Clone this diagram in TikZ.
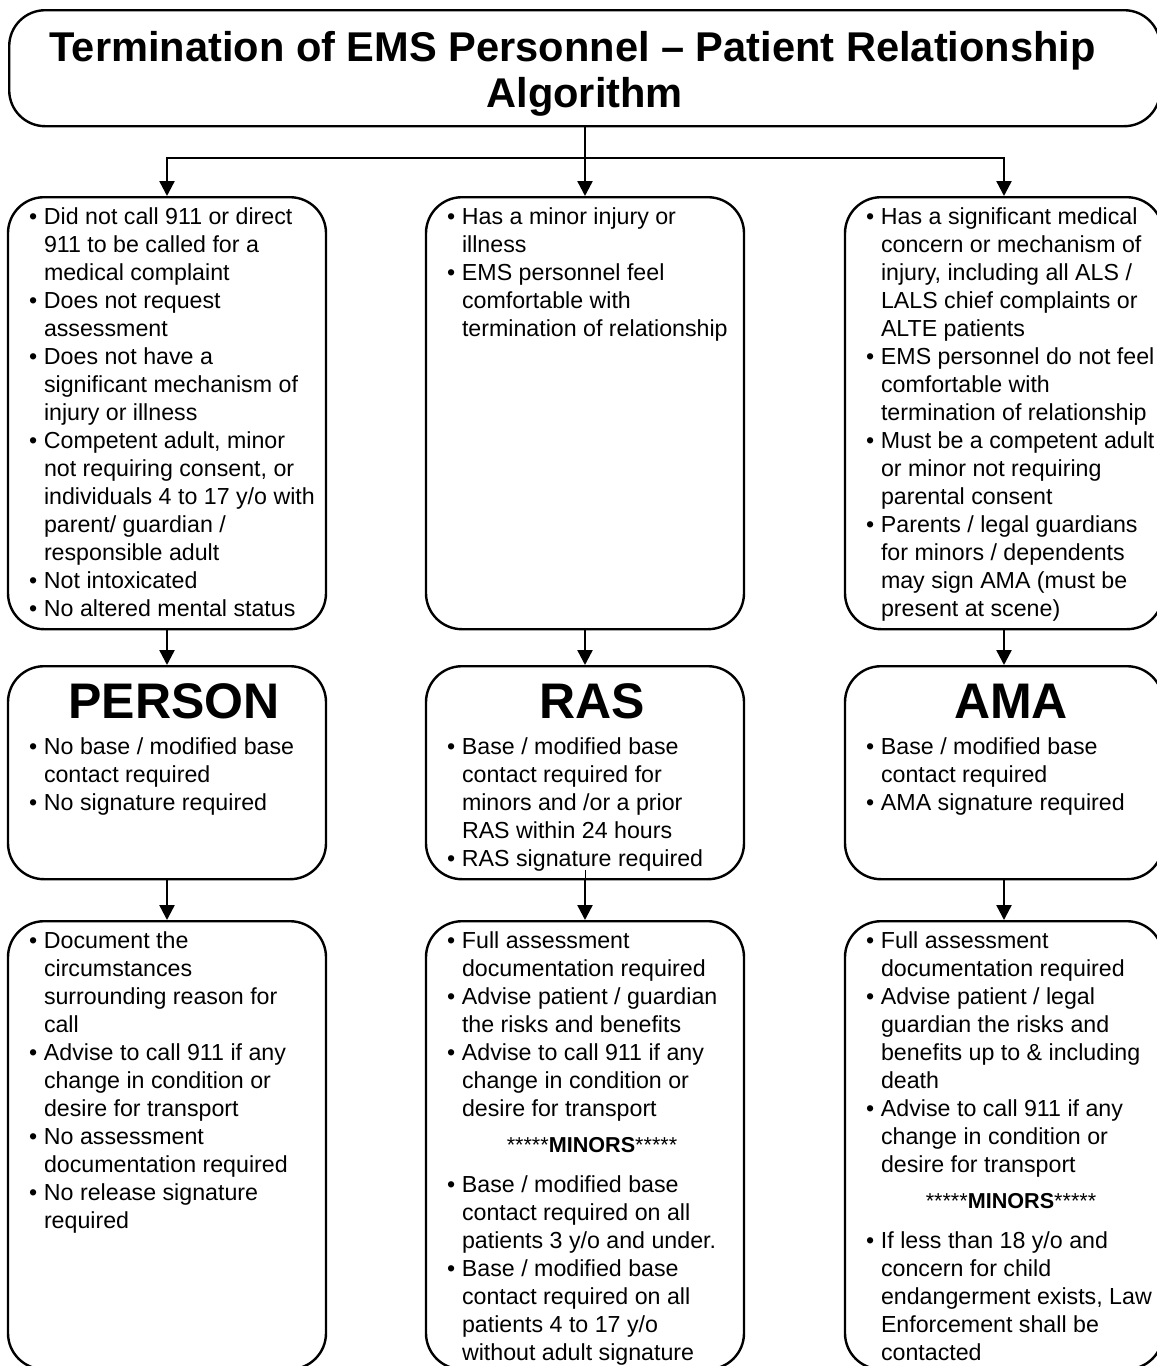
\documentclass[tikz,border=0pt]{standalone}
\usepackage{fontspec}
\setmainfont{Liberation Sans}
\usepackage{tikz}
\usetikzlibrary{positioning,arrows.meta}

\newcommand{\itm}[1]{\par\noindent\hangindent=18pt\hangafter=1\hspace*{10.5pt}\makebox[7.5pt][l]{\textbullet}\strut#1\par}
\newcommand{\boxtxt}[2]{\parbox[t][#1][t]{159pt}{\vspace*{3.7pt}#2}}
\newcommand{\heading}[1]{\vspace{2.3pt}{\centering\fontsize{25}{28}\selectfont\bfseries\hspace*{7pt}\rule{0pt}{20pt}#1\par}\vspace{4pt}}
\newcommand{\minors}{\vspace{6pt}{\centering\fontsize{10.8}{12}\selectfont\hspace*{7pt}*****\textbf{MINORS}*****\par}\vspace{6pt}}

\begin{document}
\begin{tikzpicture}[x=0.5pt,y=-0.5pt,
  box/.style={draw,line width=1.2pt,rounded corners=18pt,inner sep=0pt,font=\fontsize{11.6}{14}\selectfont},
  arr/.style={line width=1.2pt,-{Triangle[length=7.5pt,width=7.5pt]}}]
\useasboundingbox (0,0) rectangle (1157,1366);

\node[box,anchor=north west,minimum width=575.5pt,minimum height=58pt,align=center,font=\fontsize{20.8}{23}\selectfont\bfseries] (title) at (8,9) {\rule{0pt}{20.3pt}Termination of EMS Personnel -- Patient Relationship\hspace*{12pt}\\Algorithm};

\node[box,anchor=north] (crit1) at (167,196) {\boxtxt{216pt}{%
\itm{Did not call 911 or direct\\911 to be called for a\\medical complaint}
\itm{Does not request\\assessment}
\itm{Does not have a\\significant mechanism of\\injury or illness}
\itm{Competent adult, minor\\not requiring consent, or\\individuals 4 to 17 y/o with\\parent/ guardian /\\responsible adult}
\itm{Not intoxicated}
\itm{No altered mental status}}};
\node[box,anchor=north] (crit2) at (585,196) {\boxtxt{216pt}{%
\itm{Has a minor injury or\\illness}
\itm{EMS personnel feel\\comfortable with\\termination of relationship}}};
\node[box,anchor=north] (crit3) at (1004,196) {\boxtxt{216pt}{%
\itm{Has a significant medical\\concern or mechanism of\\injury, including all ALS /\\LALS chief complaints or\\ALTE patients}
\itm{EMS personnel do not feel\\comfortable with\\termination of relationship}
\itm{Must be a competent adult\\or minor not requiring\\parental consent}
\itm{Parents / legal guardians\\for minors / dependents\\may sign AMA (must be\\present at scene)}}};

\node[box,anchor=north] (person) at (167,665) {\boxtxt{106.5pt}{%
\heading{PERSON}
\itm{No base / modified base\\contact required}
\itm{No signature required}}};
\node[box,anchor=north] (ras) at (585,665) {\boxtxt{106.5pt}{%
\heading{RAS}
\itm{Base / modified base\\contact required for\\minors and /or a prior\\RAS within 24 hours}
\itm{RAS signature required}}};
\node[box,anchor=north] (ama) at (1004,665) {\boxtxt{106.5pt}{%
\heading{AMA}
\itm{Base / modified base\\contact required}
\itm{AMA signature required}}};

\node[box,anchor=north] (doc1) at (167,920) {\boxtxt{224pt}{%
\itm{Document the\\circumstances\\surrounding reason for\\call}
\itm{Advise to call 911 if any\\change in condition or\\desire for transport}
\itm{No assessment\\documentation required}
\itm{No release signature\\required}}};
\node[box,anchor=north] (doc2) at (585,920) {\boxtxt{224pt}{%
\itm{Full assessment\\documentation required}
\itm{Advise patient / guardian\\the risks and benefits}
\itm{Advise to call 911 if any\\change in condition or\\desire for transport}
\minors
\itm{Base / modified base\\contact required on all\\patients 3 y/o and under.}
\itm{Base / modified base\\contact required on all\\patients 4 to 17 y/o\\without adult signature}}};
\node[box,anchor=north] (doc3) at (1004,920) {\boxtxt{224pt}{%
\itm{Full assessment\\documentation required}
\itm{Advise patient / legal\\guardian the risks and\\benefits up to \& including\\death}
\itm{Advise to call 911 if any\\change in condition or\\desire for transport}
\minors
\itm{If less than 18 y/o and\\concern for child\\endangerment exists, Law\\Enforcement shall be\\contacted}}};

\coordinate (split) at (crit2.north |- 0,158);
\draw[arr] (crit2.north |- title.south) -- (crit2.north);
\draw[arr] (split) -| (crit1.north);
\draw[arr] (split) -| (crit3.north);

\draw[arr] (crit1.south) -- (person.north);
\draw[arr] (crit2.south) -- (ras.north);
\draw[arr] (crit3.south) -- (ama.north);
\draw[arr] (person.south) -- (doc1.north);
\draw[arr] (ras.south) -- (doc2.north);
\draw[arr] (ama.south) -- (doc3.north);
\draw[line width=0.4pt] (ras.south) -- ++(0,-10);
\end{tikzpicture}
\end{document}
